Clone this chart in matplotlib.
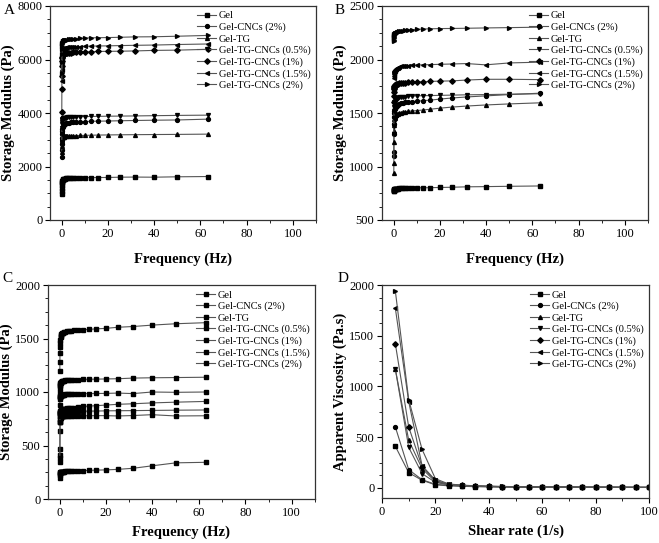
import matplotlib
matplotlib.use("Agg")
import matplotlib.pyplot as plt
from matplotlib.ticker import AutoMinorLocator

plt.rcParams['font.family'] = ['Liberation Serif', 'DejaVu Serif']

labels = ['Gel', 'Gel-CNCs (2%)', 'Gel-TG', 'Gel-TG-CNCs (0.5%)',
          'Gel-TG-CNCs (1%)', 'Gel-TG-CNCs (1.5%)', 'Gel-TG-CNCs (2%)']
markers_abd = ['s', 'o', '^', 'v', 'D', '<', '>']

# frequency sweep points (Hz)
freq = [0.1, 0.126, 0.158, 0.2, 0.251, 0.316, 0.398, 0.501, 0.631, 0.794,
        1.0, 1.26, 1.58, 2.0, 2.51, 3.16, 3.98, 5.01, 6.31, 7.94,
        10.0, 12.6, 15.8, 20.0, 25.1, 31.6, 39.8, 50.1, 63.1]

# panel A storage modulus (Pa)
a_gel = [960, 1100, 1210, 1300, 1370, 1420, 1460, 1490, 1510, 1525, 1535, 1545, 1550, 1555, 1560,
         1565, 1570, 1572, 1575, 1578, 1580, 1585, 1588, 1590, 1600, 1605, 1600, 1615, 1625]
a_cnc = [2350, 2600, 2850, 3050, 3200, 3320, 3400, 3460, 3500, 3530, 3560, 3580, 3600, 3615, 3625,
         3635, 3645, 3655, 3665, 3670, 3680, 3690, 3695, 3700, 3710, 3720, 3730, 3740, 3770]
a_tg = [2550, 2750, 2900, 2980, 3030, 3060, 3080, 3095, 3105, 3110, 3115, 3120, 3125, 3130, 3135,
        3140, 3145, 3150, 3155, 3160, 3165, 3170, 3175, 3180, 3185, 3190, 3195, 3200, 3210]
a_05 = [2900, 3200, 3450, 3600, 3680, 3730, 3760, 3780, 3795, 3805, 3815, 3820, 3825, 3830, 3835,
        3840, 3845, 3850, 3855, 3860, 3865, 3870, 3875, 3880, 3885, 3890, 3900, 3910, 3920]
a_1 = [4030, 4900, 5400, 5750, 5950, 6050, 6110, 6150, 6175, 6195, 6210, 6220, 6230, 6240, 6250,
       6255, 6260, 6265, 6270, 6275, 6280, 6290, 6300, 6305, 6310, 6320, 6340, 6350, 6380]
a_15 = [5200, 5600, 5900, 6100, 6220, 6300, 6340, 6370, 6390, 6400, 6410, 6420, 6430, 6440, 6450,
        6455, 6460, 6470, 6475, 6480, 6490, 6500, 6505, 6510, 6520, 6530, 6540, 6560, 6580]
a_2 = [5500, 5900, 6200, 6400, 6520, 6590, 6630, 6660, 6680, 6695, 6705, 6715, 6725, 6735, 6745,
       6755, 6765, 6775, 6785, 6790, 6800, 6810, 6815, 6820, 6830, 6845, 6850, 6870, 6900]

# panel B storage modulus (Pa)
b_gel = [770, 775, 778, 780, 782, 784, 786, 788, 789, 790, 791, 792, 793, 794, 795,
         796, 797, 798, 799, 800, 800, 801, 802, 804, 806, 810, 812, 815, 818]
b_cnc = [1100, 1140, 1300, 1400, 1460, 1500, 1520, 1535, 1545, 1550, 1555, 1565, 1570, 1578, 1585,
         1590, 1595, 1600, 1603, 1607, 1610, 1615, 1620, 1630, 1640, 1650, 1660, 1672, 1685]
b_tg = [940, 1030, 1230, 1330, 1390, 1420, 1440, 1455, 1465, 1472, 1478, 1485, 1490, 1495, 1500,
        1503, 1507, 1510, 1515, 1520, 1522, 1528, 1535, 1545, 1555, 1565, 1575, 1585, 1595]
b_05 = [1300, 1380, 1450, 1520, 1560, 1585, 1600, 1610, 1615, 1620, 1625, 1630, 1635, 1640, 1645,
        1648, 1650, 1652, 1655, 1658, 1660, 1662, 1663, 1665, 1667, 1670, 1672, 1676, 1680]
b_1 = [1600, 1660, 1700, 1720, 1735, 1745, 1750, 1755, 1758, 1760, 1765, 1770, 1772, 1775, 1778,
       1780, 1782, 1784, 1786, 1788, 1790, 1792, 1795, 1798, 1800, 1808, 1815, 1815, 1812]
b_15 = [1830, 1850, 1860, 1870, 1880, 1885, 1890, 1895, 1900, 1905, 1910, 1915, 1920, 1925, 1930,
        1935, 1938, 1940, 1942, 1945, 1948, 1950, 1952, 1955, 1958, 1962, 1950, 1968, 1975]
b_2 = [2170, 2185, 2200, 2210, 2220, 2228, 2234, 2238, 2242, 2245, 2248, 2252, 2256, 2260, 2263,
       2266, 2269, 2272, 2275, 2278, 2281, 2284, 2287, 2289, 2290, 2292, 2295, 2298, 2302]

# panel C storage modulus (Pa)
c_gel = [200, 220, 235, 242, 246, 248, 250, 251, 252, 253, 254, 255, 256, 257, 258,
         259, 260, 261, 262, 263, 265, 267, 270, 272, 277, 287, 310, 338, 343]
c_cnc = [350, 410, 470, 640, 720, 750, 760, 765, 768, 770, 772, 773, 774, 775, 775,
         776, 776, 777, 777, 778, 778, 778, 779, 779, 776, 780, 788, 776, 778]
c_tg = [380, 720, 770, 790, 800, 805, 808, 810, 812, 813, 814, 815, 816, 817, 818,
        818, 819, 819, 820, 820, 820, 821, 822, 824, 825, 826, 828, 830, 832]
c_05 = [720, 780, 800, 810, 815, 820, 825, 828, 830, 833, 836, 838, 840, 842, 845,
        847, 850, 852, 855, 860, 865, 868, 872, 878, 885, 890, 898, 905, 912]
c_1 = [880, 930, 950, 955, 958, 960, 962, 964, 966, 968, 970, 972, 974, 976, 978,
       979, 980, 981, 982, 983, 984, 985, 986, 987, 990, 985, 1000, 997, 1000]
c_15 = [1000, 1040, 1060, 1070, 1078, 1084, 1088, 1092, 1095, 1098, 1100, 1102, 1104, 1106, 1108,
        1110, 1112, 1113, 1114, 1115, 1117, 1119, 1120, 1122, 1124, 1130, 1133, 1135, 1138]
c_2 = [1200, 1280, 1360, 1420, 1460, 1490, 1510, 1525, 1535, 1542, 1548, 1552, 1556, 1560, 1563,
       1566, 1569, 1572, 1575, 1578, 1581, 1585, 1590, 1595, 1605, 1612, 1625, 1638, 1648]

# panel D apparent viscosity (Pa.s) vs shear rate (1/s)
shear = [5, 10, 15, 20, 25, 30, 35, 40, 45, 50, 55, 60, 65, 70, 75, 80, 85, 90, 95, 100]
d_gel = [410, 150, 75, 30, 20, 15, 12, 10, 9, 8, 7, 7, 6, 6, 5, 5, 5, 4, 4, 4]
d_cnc = [600, 180, 80, 35, 25, 18, 14, 12, 10, 9, 8, 7, 7, 6, 6, 5, 5, 5, 4, 4]
d_tg = [1170, 470, 190, 60, 30, 22, 17, 14, 12, 10, 9, 8, 7, 7, 6, 6, 5, 5, 5, 4]
d_05 = [1170, 400, 140, 55, 28, 20, 16, 13, 11, 10, 9, 8, 7, 7, 6, 6, 5, 5, 5, 4]
d_1 = [1420, 600, 210, 70, 32, 24, 18, 15, 12, 11, 10, 9, 8, 7, 7, 6, 6, 5, 5, 5]
d_15 = [1770, 850, 220, 75, 34, 25, 19, 15, 13, 11, 10, 9, 8, 8, 7, 6, 6, 6, 5, 5]
d_2 = [1940, 870, 380, 90, 38, 27, 20, 16, 14, 12, 10, 9, 8, 8, 7, 7, 6, 6, 5, 5]

W, H = 659, 543
fig = plt.figure(figsize=(W / 100, H / 100), dpi=100)


def make_ax(l, t, r, b):
    return fig.add_axes([l / W, (H - b) / H, (r - l) / W, (b - t) / H])


def style(ax, xlabel, ylabel, xlim, ylim, xstep, ystep, xpad):
    ax.set_xlim(*xlim)
    ax.set_ylim(*ylim)
    ax.set_xticks(range(0 if xlim[0] < 0 else int(xlim[0]), 101, xstep))
    ax.set_yticks(range(int(ylim[0]) if ylim[0] >= 0 else 0, int(ylim[1]) + 1, ystep))
    ax.xaxis.set_minor_locator(AutoMinorLocator(2))
    ax.yaxis.set_minor_locator(AutoMinorLocator(4))
    ax.tick_params(which='major', direction='out', length=3.5, width=0.8, labelsize=9, pad=2)
    ax.tick_params(which='minor', direction='out', length=2, width=0.6)
    ax.set_xlabel(xlabel, fontsize=10.5, fontweight='bold', labelpad=xpad)
    ax.set_ylabel(ylabel, fontsize=10.5, fontweight='bold', labelpad=2)
    for s in ax.spines.values():
        s.set_linewidth(0.9)
        s.set_color('#333333')
    ax.legend(loc='upper right', frameon=False, fontsize=7.5, handlelength=1.8,
              handletextpad=0.3, labelspacing=0.2, borderaxespad=0.3, borderpad=0.2)


def plot_set(ax, x, series, mks, ms):
    for y, lab, m in zip(series, labels, mks):
        ax.plot(x, y, color='#555555', lw=0.8, marker=m, ms=ms, mfc='black',
                mec='black', label=lab)


axA = make_ax(50, 6, 316, 220)
plot_set(axA, freq, [a_gel, a_cnc, a_tg, a_05, a_1, a_15, a_2], markers_abd, 2.8)
style(axA, 'Frequency (Hz)', 'Storage Modulus (Pa)', (-5, 110), (0, 8000), 20, 2000, 9)

axB = make_ax(382, 6, 648, 220)
plot_set(axB, freq, [b_gel, b_cnc, b_tg, b_05, b_1, b_15, b_2], markers_abd, 2.8)
style(axB, 'Frequency (Hz)', 'Storage Modulus (Pa)', (-5, 110), (500, 2500), 20, 500, 9)

axC = make_ax(48, 285, 315, 499)
plot_set(axC, freq, [c_gel, c_cnc, c_tg, c_05, c_1, c_15, c_2], ['s'] * 7, 2.6)
style(axC, 'Frequency (Hz)', 'Storage Modulus (Pa)', (-5, 110), (0, 2000), 20, 500, 5)

axD = make_ax(382, 285, 649, 498)
plot_set(axD, shear, [d_gel, d_cnc, d_tg, d_05, d_1, d_15, d_2], markers_abd, 2.8)
style(axD, 'Shear rate (1/s)', 'Apparent Viscosity (Pa.s)', (0, 100), (-100, 2000), 20, 500, 5)

for txt, x, y in [('A', 4, 14), ('B', 335, 14), ('C', 2, 282), ('D', 338, 282)]:
    fig.text(x / W, 1 - y / H, txt, fontsize=11)

fig.savefig('out.png', dpi=100)
